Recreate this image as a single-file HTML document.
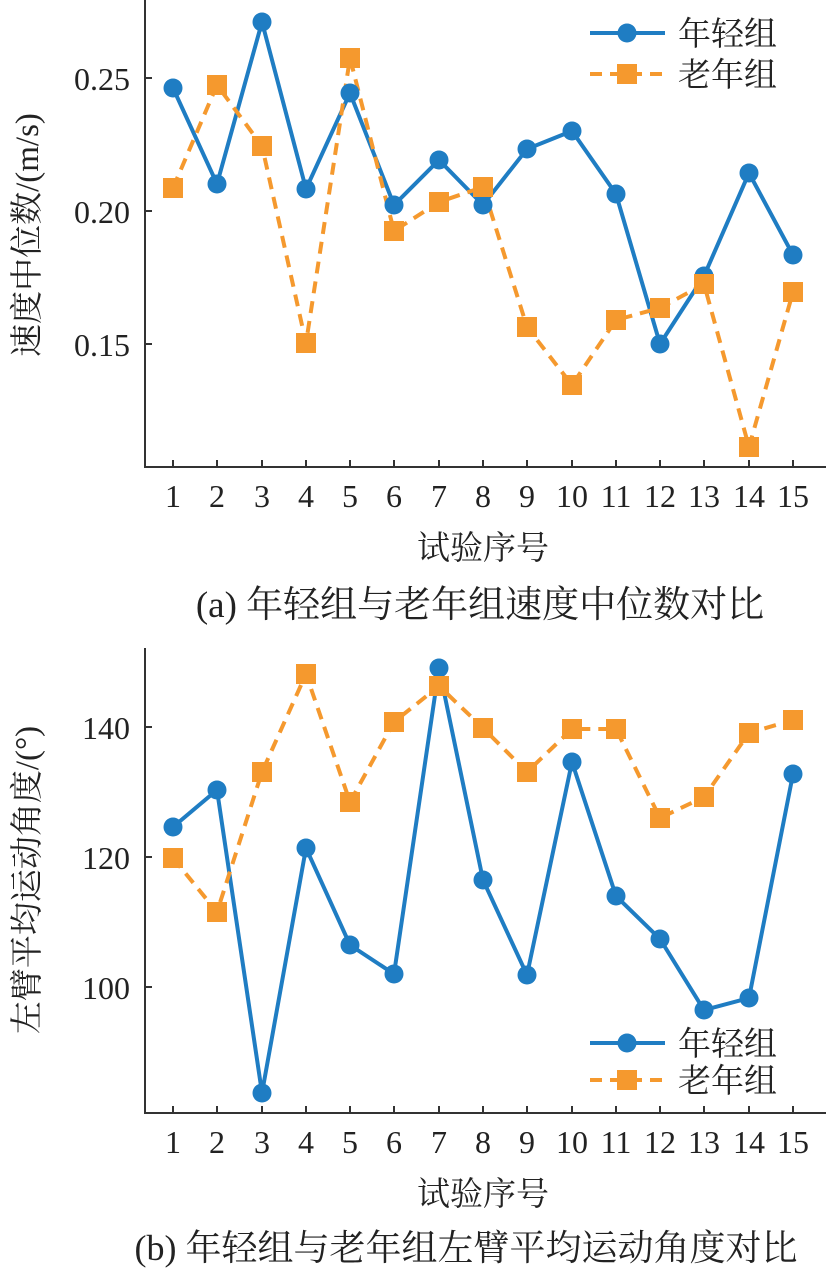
<!DOCTYPE html>
<html><head><meta charset="utf-8"><style>
body{margin:0;background:#fff}
text{font-family:"Liberation Serif","Noto Serif CJK SC","Noto Sans CJK SC",serif;fill:#222}
</style></head><body>
<svg width="826" height="1271" viewBox="0 0 826 1271" xmlns="http://www.w3.org/2000/svg">
<defs>
<g id="c"><circle r="9.5" fill="#1f7dc3"/></g>
<g id="s"><rect x="-10" y="-10" width="20" height="20" fill="#f5992e"/></g>
</defs>
<g stroke="#333" stroke-width="2" fill="none">
<path d="M145 0V467H826"/>
<path d="M145 78h7M145 211h7M145 344h7"/>
<path d="M173 467v-7M217 467v-7M262 467v-7M306 467v-7M350 467v-7M394 467v-7M439 467v-7M483 467v-7M527 467v-7M572 467v-7M616 467v-7M660 467v-7M704 467v-7M749 467v-7M793 467v-7"/>
</g>
<g font-size="32" text-anchor="end"><text x="130" y="90">0.25</text><text x="130" y="223">0.20</text><text x="130" y="356">0.15</text></g>
<g font-size="32" text-anchor="middle">
<text x="173" y="507">1</text><text x="217" y="507">2</text><text x="262" y="507">3</text><text x="306" y="507">4</text><text x="350" y="507">5</text><text x="394" y="507">6</text><text x="439" y="507">7</text><text x="483" y="507">8</text><text x="527" y="507">9</text><text x="572" y="507">10</text><text x="616" y="507">11</text><text x="660" y="507">12</text><text x="704" y="507">13</text><text x="749" y="507">14</text><text x="793" y="507">15</text>
<text x="483" y="559" font-size="33">试验序号</text>
<text x="480" y="617" font-size="37">(a) 年轻组与老年组速度中位数对比</text>
</g>
<text font-size="33" text-anchor="middle" transform="translate(38,235) rotate(-90)">速度中位数/(m/s)</text>
<polyline fill="none" stroke="#1f7dc3" stroke-width="4" points="173,88 217,184 262,22 306,189 350,93 394,205 439,160 483,205 527,149 572,131 616,194 660,344 704,276 749,173 793,255"/>
<polyline fill="none" stroke="#f5992e" stroke-width="4" stroke-dasharray="12,8" points="173,188 217,85 262,146 306,343 350,58 394,231 439,202 483,187 527,327 572,385 616,320 660,308 704,284 749,447 793,292"/>
<g>
<use href="#c" x="173" y="88"/><use href="#c" x="217" y="184"/><use href="#c" x="262" y="22"/><use href="#c" x="306" y="189"/><use href="#c" x="350" y="93"/><use href="#c" x="394" y="205"/><use href="#c" x="439" y="160"/><use href="#c" x="483" y="205"/><use href="#c" x="527" y="149"/><use href="#c" x="572" y="131"/><use href="#c" x="616" y="194"/><use href="#c" x="660" y="344"/><use href="#c" x="704" y="276"/><use href="#c" x="749" y="173"/><use href="#c" x="793" y="255"/>
<use href="#s" x="173" y="188"/><use href="#s" x="217" y="85"/><use href="#s" x="262" y="146"/><use href="#s" x="306" y="343"/><use href="#s" x="350" y="58"/><use href="#s" x="394" y="231"/><use href="#s" x="439" y="202"/><use href="#s" x="483" y="187"/><use href="#s" x="527" y="327"/><use href="#s" x="572" y="385"/><use href="#s" x="616" y="320"/><use href="#s" x="660" y="308"/><use href="#s" x="704" y="284"/><use href="#s" x="749" y="447"/><use href="#s" x="793" y="292"/>
</g>
<line x1="590" y1="33" x2="665" y2="33" stroke="#1f7dc3" stroke-width="4"/><use href="#c" x="627" y="33"/>
<line x1="590" y1="74" x2="665" y2="74" stroke="#f5992e" stroke-width="4" stroke-dasharray="12,8"/><use href="#s" x="627" y="74"/>
<text x="678" y="45" font-size="33">年轻组</text><text x="678" y="86" font-size="33">老年组</text>

<g stroke="#333" stroke-width="2" fill="none">
<path d="M145 648V1113H826"/>
<path d="M145 727h7M145 857h7M145 987h7"/>
<path d="M173 1113v-7M217 1113v-7M262 1113v-7M306 1113v-7M350 1113v-7M394 1113v-7M439 1113v-7M483 1113v-7M527 1113v-7M572 1113v-7M616 1113v-7M660 1113v-7M704 1113v-7M749 1113v-7M793 1113v-7"/>
</g>
<g font-size="32" text-anchor="end"><text x="130" y="739">140</text><text x="130" y="869">120</text><text x="130" y="999">100</text></g>
<g font-size="32" text-anchor="middle">
<text x="173" y="1153">1</text><text x="217" y="1153">2</text><text x="262" y="1153">3</text><text x="306" y="1153">4</text><text x="350" y="1153">5</text><text x="394" y="1153">6</text><text x="439" y="1153">7</text><text x="483" y="1153">8</text><text x="527" y="1153">9</text><text x="572" y="1153">10</text><text x="616" y="1153">11</text><text x="660" y="1153">12</text><text x="704" y="1153">13</text><text x="749" y="1153">14</text><text x="793" y="1153">15</text>
<text x="483" y="1205" font-size="33">试验序号</text>
<text x="466" y="1260" font-size="36">(b) 年轻组与老年组左臂平均运动角度对比</text>
</g>
<text font-size="33" text-anchor="middle" transform="translate(38,880) rotate(-90)">左臂平均运动角度/(°)</text>
<polyline fill="none" stroke="#1f7dc3" stroke-width="4" points="173,827 217,790 262,1093 306,848 350,945 394,974 439,668 483,880 527,975 572,762 616,896 660,939 704,1010 749,998 793,774"/>
<polyline fill="none" stroke="#f5992e" stroke-width="4" stroke-dasharray="12,8" points="173,858 217,912 262,772 306,674 350,802 394,722 439,686 483,728 527,772 572,729 616,729 660,818 704,797 749,733 793,720"/>
<g>
<use href="#c" x="173" y="827"/><use href="#c" x="217" y="790"/><use href="#c" x="262" y="1093"/><use href="#c" x="306" y="848"/><use href="#c" x="350" y="945"/><use href="#c" x="394" y="974"/><use href="#c" x="439" y="668"/><use href="#c" x="483" y="880"/><use href="#c" x="527" y="975"/><use href="#c" x="572" y="762"/><use href="#c" x="616" y="896"/><use href="#c" x="660" y="939"/><use href="#c" x="704" y="1010"/><use href="#c" x="749" y="998"/><use href="#c" x="793" y="774"/>
<use href="#s" x="173" y="858"/><use href="#s" x="217" y="912"/><use href="#s" x="262" y="772"/><use href="#s" x="306" y="674"/><use href="#s" x="350" y="802"/><use href="#s" x="394" y="722"/><use href="#s" x="439" y="686"/><use href="#s" x="483" y="728"/><use href="#s" x="527" y="772"/><use href="#s" x="572" y="729"/><use href="#s" x="616" y="729"/><use href="#s" x="660" y="818"/><use href="#s" x="704" y="797"/><use href="#s" x="749" y="733"/><use href="#s" x="793" y="720"/>
</g>
<line x1="590" y1="1043" x2="665" y2="1043" stroke="#1f7dc3" stroke-width="4"/><use href="#c" x="627" y="1043"/>
<line x1="590" y1="1080" x2="665" y2="1080" stroke="#f5992e" stroke-width="4" stroke-dasharray="12,8"/><use href="#s" x="627" y="1080"/>
<text x="678" y="1055" font-size="33">年轻组</text><text x="678" y="1092" font-size="33">老年组</text>
</svg>
</body></html>
